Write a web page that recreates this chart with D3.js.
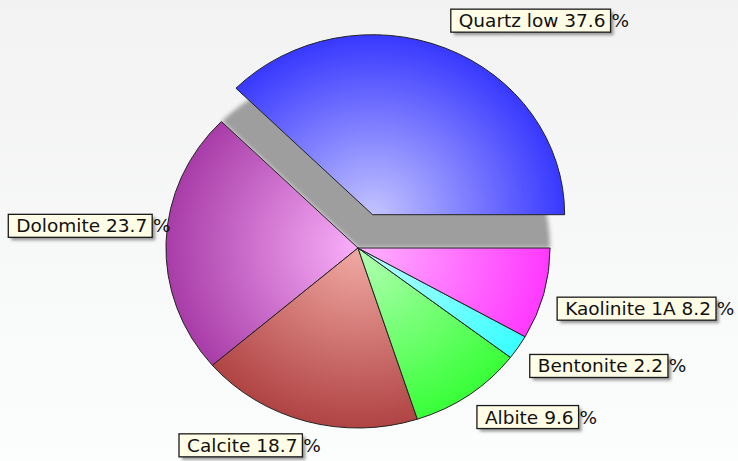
<!DOCTYPE html>
<html>
<head>
<meta charset="utf-8">
<script src="https://cdn.jsdelivr.net/npm/d3@7"></script>
<style>
  html, body { margin: 0; padding: 0; background: #f6f6f6; }
  svg { display: block; }
</style>
</head>
<body>
<svg id="chart" width="738" height="461"></svg>
<script>
// Mineral composition (percent of sample)
const minerals = ["Quartz low", "Dolomite", "Calcite", "Albite", "Bentonite", "Kaolinite 1A"];
const percents = [37.6, 23.7, 18.7, 9.6, 2.2, 8.2];
const outerColors = ["#3838ff", "#a83ca8", "#b04444", "#38ff38", "#38ffff", "#ff38ff"];
const innerColors = ["#c4c4ff", "#fab0fa", "#f2aaa4", "#b4ffb4", "#c0ffff", "#ffb4ff"];
const explodedSlice = "Quartz low";

const width = 738, height = 461;
const cx = 358, cy = 248;
const radius = 180;
const xStretch = 1.067;       // pie drawn slightly wider than tall
const explodeDist = 36;
const labelRadius = 193;

const svg = d3.select("#chart");
const defs = svg.append("defs");

// background wash
const bg = defs.append("linearGradient").attr("id", "bg")
  .attr("x1", 0).attr("y1", 0).attr("x2", 0).attr("y2", 1);
bg.append("stop").attr("offset", "0%").attr("stop-color", "#f2f2f2");
bg.append("stop").attr("offset", "100%").attr("stop-color", "#fcfdfd");
svg.append("rect").attr("width", width).attr("height", height).attr("fill", "url(#bg)");

// filters
const soft = defs.append("filter").attr("id", "soft")
  .attr("x", "-10%").attr("y", "-10%").attr("width", "120%").attr("height", "120%");
soft.append("feGaussianBlur").attr("stdDeviation", 2.2);

const boxShadow = defs.append("filter").attr("id", "boxShadow")
  .attr("x", "-10%").attr("y", "-30%").attr("width", "130%").attr("height", "180%");
boxShadow.append("feGaussianBlur").attr("stdDeviation", 1.6);

// per-slice radial shading, light toward the pie centre
minerals.forEach((m, i) => {
  const g = defs.append("radialGradient").attr("id", "grad" + i)
    .attr("gradientUnits", "userSpaceOnUse")
    .attr("cx", 0).attr("cy", 0).attr("r", radius);
  g.append("stop").attr("offset", "0%").attr("stop-color", innerColors[i]);
  g.append("stop").attr("offset", "100%").attr("stop-color", outerColors[i]);
});

const pie = d3.pie()
  .sort(null)
  .value(d => d.value)
  .startAngle(Math.PI / 2)
  .endAngle(Math.PI / 2 - 2 * Math.PI);

const data = minerals.map((m, i) => ({ name: m, value: percents[i], idx: i }));
const arcs = pie(data);

const arc = d3.arc().innerRadius(0).outerRadius(radius);

const pieG = svg.append("g")
  .attr("transform", `translate(${cx},${cy}) scale(${xStretch},1)`);

function offsetFor(d) {
  if (d.data.name !== explodedSlice) return [0, 0];
  const a = (d.startAngle + d.endAngle) / 2;
  return [Math.sin(a) * explodeDist, -Math.cos(a) * explodeDist];
}

// shadow left behind by the pulled-out slice
pieG.selectAll("path.shadow")
  .data(arcs.filter(d => d.data.name === explodedSlice))
  .join("path")
  .attr("class", "shadow")
  .attr("d", arc)
  .attr("fill", "#9e9e9e")
  .attr("filter", "url(#soft)");

// slices
pieG.selectAll("g.slice")
  .data(arcs)
  .join("g")
  .attr("class", "slice")
  .attr("transform", d => `translate(${offsetFor(d)})`)
  .append("path")
  .attr("d", arc)
  .attr("fill", d => `url(#grad${d.data.idx})`)
  .attr("stroke", "#222")
  .attr("stroke-width", 1)
  .attr("vector-effect", "non-scaling-stroke")
  .attr("stroke-linejoin", "round");

// labels
const labelG = svg.append("g")
  .style("font-family", "'DejaVu Sans', Verdana, sans-serif")
  .style("font-size", "18.5px");

const boxH = 23, padL = 8, padR = 5;

arcs.forEach(d => {
  const a = (d.startAngle + d.endAngle) / 2;
  const r = labelRadius + (d.data.name === explodedSlice ? explodeDist : 0);
  const ax = cx + Math.sin(a) * r * xStretch;
  const ay = cy - Math.cos(a) * r;

  const g = labelG.append("g");
  const shadow = g.append("rect");
  const box = g.append("rect");
  const text = g.append("text").attr("fill", "#111");
  const main = text.append("tspan").text(`${d.data.name} ${d.data.value.toFixed(1)}`);
  text.append("tspan").text(" %");

  const tw = main.node().getComputedTextLength();
  const bw = tw + padL + padR;
  const bx = ax > cx ? ax : ax - bw;
  const by = ay < cy ? ay - 4 - boxH : ay;

  shadow.attr("x", bx + 3).attr("y", by + 3).attr("width", bw).attr("height", boxH)
    .attr("fill", "#777").attr("opacity", 0.75).attr("filter", "url(#boxShadow)");
  box.attr("x", bx).attr("y", by).attr("width", bw).attr("height", boxH)
    .attr("fill", "#fffde6").attr("stroke", "#1a1a1a").attr("stroke-width", 1.3);
  text.attr("x", bx + padL).attr("y", by + 18);
});
</script>
</body>
</html>
